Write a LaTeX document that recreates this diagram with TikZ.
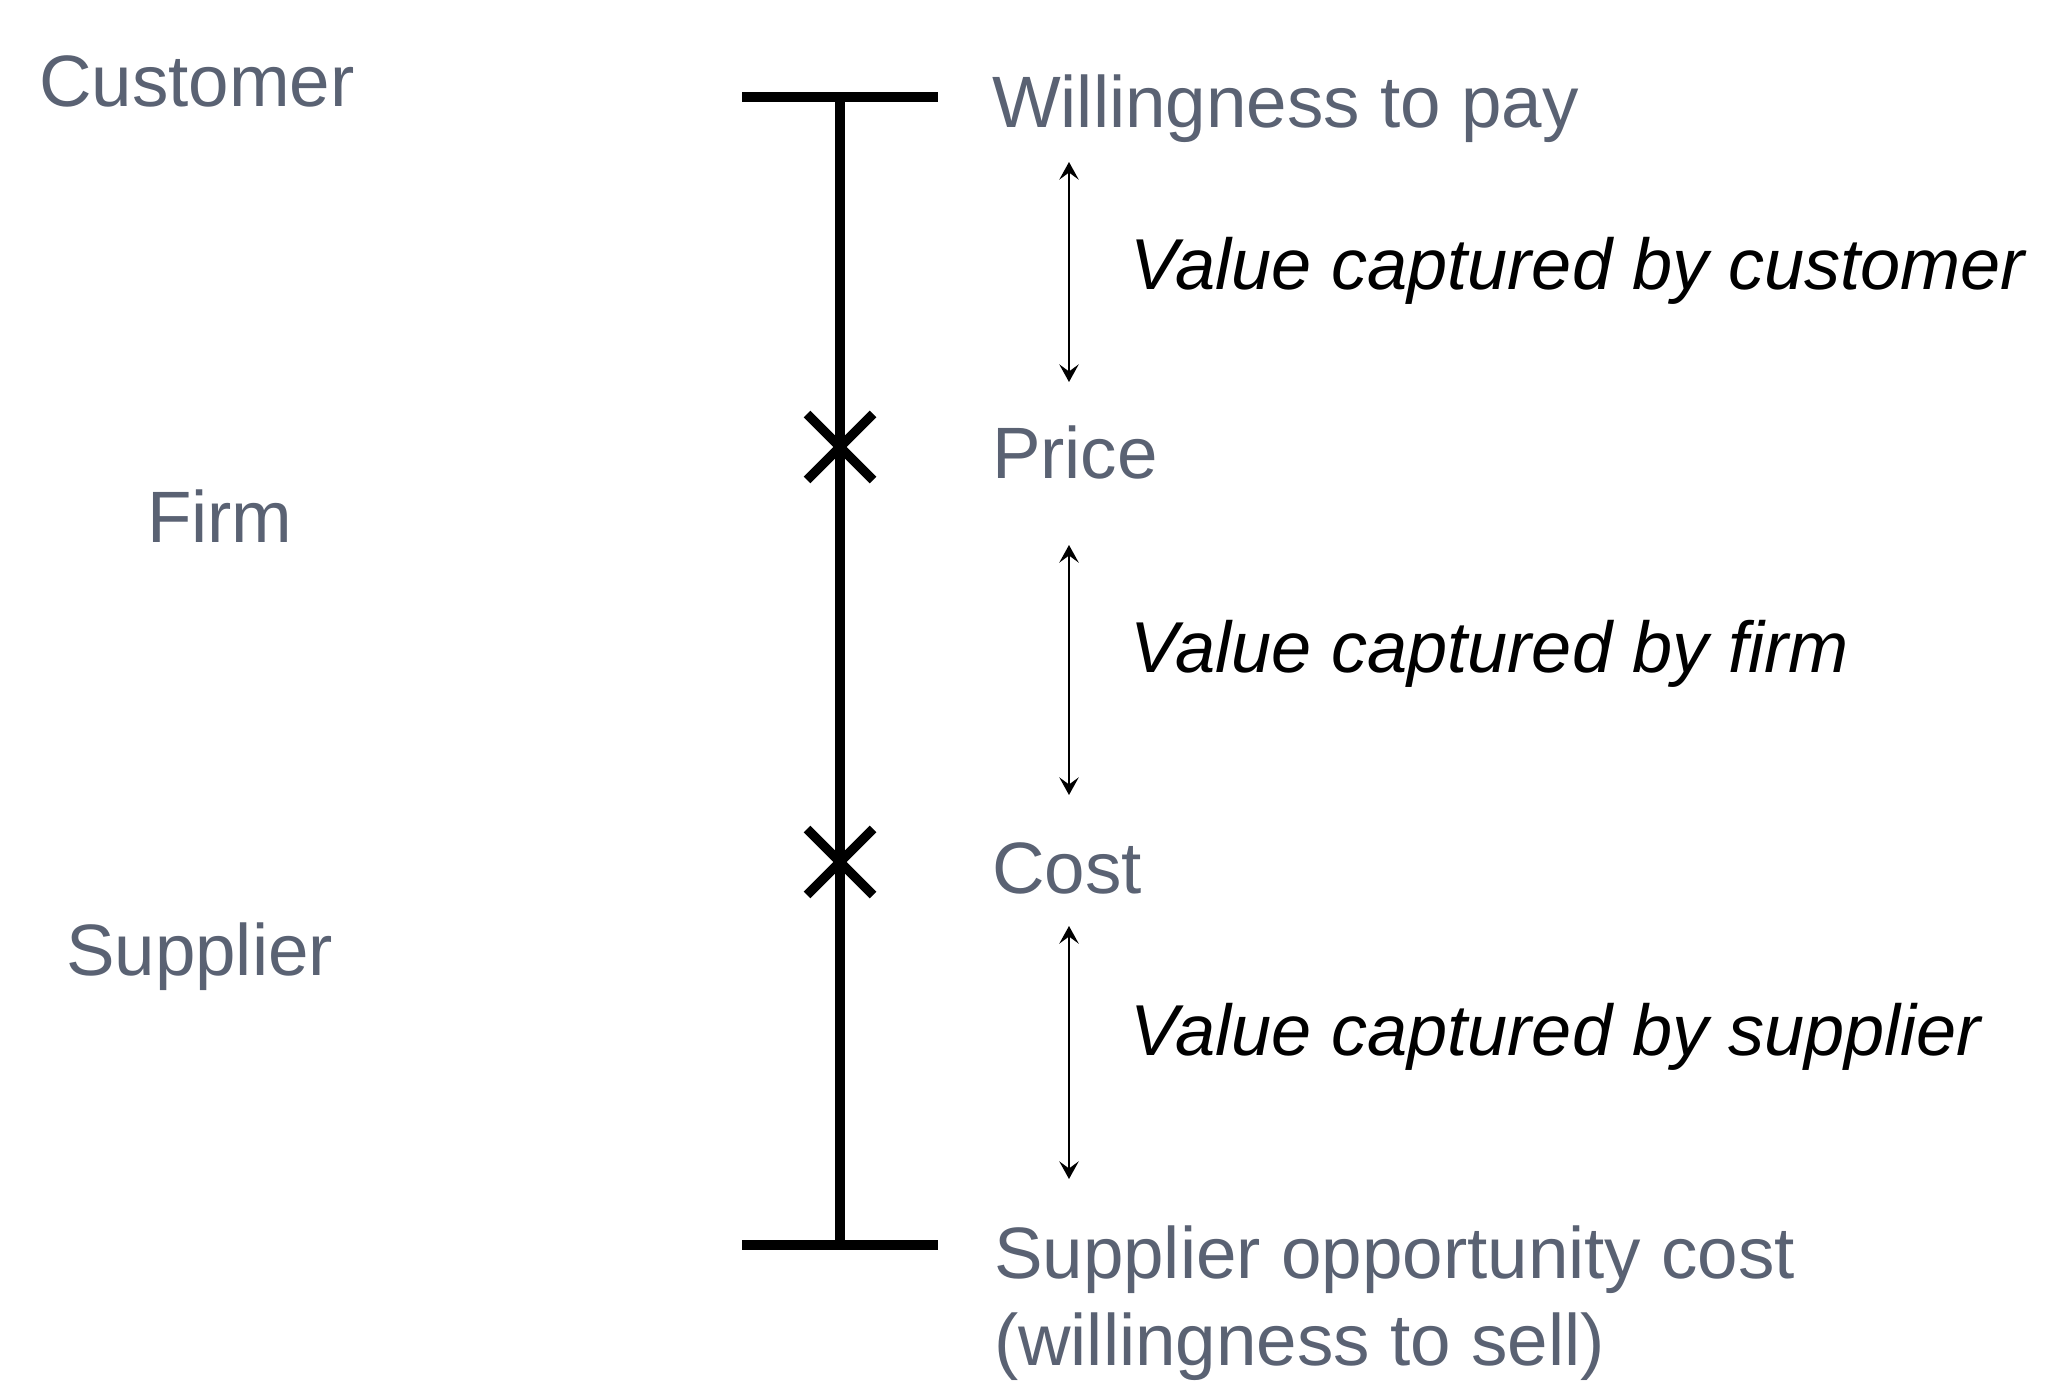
\documentclass[tikz,border=0pt]{standalone}
\usepackage{fontspec}
\setmainfont{Liberation Sans}
\usetikzlibrary{arrows.meta,positioning}
\definecolor{labelgrey}{RGB}{90,98,115}
\tikzstyle{every node}+=[inner sep=0pt,outer sep=0pt]
\tikzstyle{party}=[labelgrey,anchor=base west,font=\fontsize{20.7}{25}\selectfont]
\tikzstyle{share}=[black,anchor=base west,font=\fontsize{20.5}{25}\selectfont\itshape]
\tikzstyle{bar}=[line width=2.7pt]
\tikzstyle{span}=[line width=0.7pt,{Stealth[length=5pt,width=5.5pt,inset=2pt]}-{Stealth[length=5pt,width=5.5pt,inset=2pt]}]
\newcommand{\drawcross}[1]{
	\foreach \c in {#1}{
		\draw[bar] ([shift={(-33,-33)}]\c) -- ([shift={(33,33)}]\c);
		\draw[bar] ([shift={(-33,33)}]\c) -- ([shift={(33,-33)}]\c);
	}
}

\begin{document}
\begin{tikzpicture}[x=0.01cm,y=-0.01cm]
\useasboundingbox (0,0) rectangle (2060,1400);

% the scale
\coordinate (top) at (840,97);
\coordinate (bottom) at (840,1245);
\coordinate (price) at (840,447);
\coordinate (cost) at (840,862);
\draw[bar] ([shift={(-98,0)}]top) -- ([shift={(98,0)}]top);
\draw[bar] ([shift={(-98,0)}]bottom) -- ([shift={(98,0)}]bottom);
\draw[bar] (top) -- (bottom);
\drawcross{price,cost}

% parties
\node[party] (customer) at (39,107) {Customer};
\node[party] (firm) at (147,542) {Firm};
\node[party] (supplier) at (66,975) {Supplier};

% levels
\node[party] (wtp) at (992,128) {Willingness to pay};
\node[party] (pricelbl) at (992,478) {Price};
\node[party] (costlbl) at (992,893) {Cost};
\node[party] (opp) at (994,1278) {Supplier opportunity cost};
\node[party] (sell) at ([yshift=-25pt]opp.base west) {(willingness to sell)};

% captured values
\coordinate (a1) at (1069,162);
\coordinate (b1) at (1069,382);
\coordinate (a2) at (1069,545);
\coordinate (b2) at (1069,795);
\coordinate (a3) at (1069,926);
\coordinate (b3) at (1069,1179);
\foreach \i in {1,2,3}{
	\draw[span] (a\i) -- (b\i);
}
\node[share] (vcust) at (1130,289) {Value captured by customer};
\node[share] (vfirm) at (1130,672) {Value captured by firm};
\node[share] (vsupp) at (1130,1055) {Value captured by supplier};
\end{tikzpicture}
\end{document}
